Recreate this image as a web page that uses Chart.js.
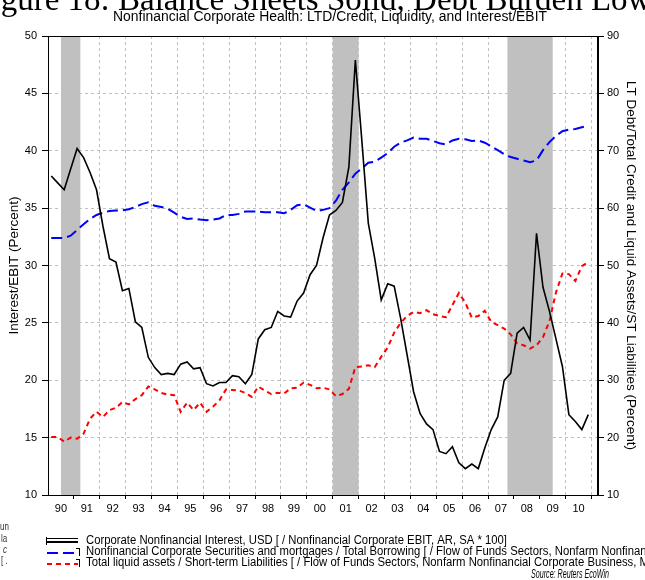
<!DOCTYPE html>
<html>
<head>
<meta charset="utf-8">
<script src="https://cdn.jsdelivr.net/npm/chart.js@4.4.0/dist/chart.umd.min.js"></script>
<style>
  html, body { margin: 0; padding: 0; background: #fff; }
  #wrap { width: 645px; height: 580px; }
</style>
</head>
<body>
<div id="wrap"><canvas id="chart" width="645" height="580"></canvas></div>
<script>
// quarterly values, 1990Q1 .. 2010Q4
const interestEbit = [
  37.8, 37.2, 36.6, 38.4, 40.2, 39.4, 38.1, 36.6, 33.4, 30.6,
  30.3, 27.8, 28.0, 25.1, 24.6, 22.0, 21.1, 20.5, 20.6, 20.5,
  21.4, 21.6, 21.0, 21.1, 19.7, 19.5, 19.8, 19.8, 20.4, 20.3,
  19.7, 20.5, 23.6, 24.4, 24.6, 26.0, 25.6, 25.5, 26.9, 27.6,
  29.2, 30.0, 32.4, 34.4, 34.8, 35.5, 38.6, 47.9, 40.9, 33.7,
  30.6, 27.0, 28.4, 28.2, 25.4, 22.2, 19.0, 17.1, 16.2, 15.7,
  13.8, 13.6, 14.2, 12.8, 12.3, 12.7, 12.3, 14.1, 15.7, 16.8,
  20.0, 20.6, 24.1, 24.6, 23.5, 32.8, 28.1, 26.0, 23.6, 21.2,
  17.0, 16.4, 15.7, 17.0
];
const ltdCredit = [
  54.8, 54.8, 54.8, 55.2, 56.2, 57.2, 58.1, 58.8, 59.2, 59.5,
  59.6, 59.6, 59.8, 60.2, 60.7, 61.0, 60.4, 60.2, 59.9, 59.2,
  58.5, 58.1, 58.2, 58.0, 57.9, 58.0, 58.2, 58.8, 58.8, 59.0,
  59.4, 59.4, 59.4, 59.3, 59.3, 59.3, 59.1, 59.7, 60.5, 60.7,
  60.1, 59.5, 59.7, 60.0, 61.3, 63.2, 64.5, 66.0, 66.9, 67.9,
  68.1, 68.8, 69.6, 70.7, 71.4, 71.8, 72.3, 72.1, 72.1, 71.7,
  71.3, 71.1, 71.8, 72.1, 72.0, 71.7, 71.8, 71.4, 70.8, 70.1,
  69.4, 68.9, 68.6, 68.3, 68.0, 68.3, 70.1, 71.5, 72.6, 73.4,
  73.7, 73.8, 74.1, 74.4
];
const liquidity = [
  20.1, 20.1, 19.3, 20.0, 19.8, 20.7, 23.3, 24.5, 23.6, 24.8,
  25.2, 26.2, 25.8, 26.7, 27.4, 28.9, 28.4, 27.8, 27.5, 27.4,
  24.5, 26.1, 24.8, 26.1, 24.5, 25.4, 26.5, 28.4, 28.3, 28.2,
  27.8, 27.1, 28.9, 28.2, 27.6, 27.8, 27.7, 28.6, 28.7, 29.6,
  29.2, 28.6, 28.7, 28.4, 27.2, 27.6, 28.5, 32.3, 32.4, 32.6,
  32.3, 34.1, 35.7, 38.3, 40.0, 41.2, 41.9, 41.7, 42.2, 41.5,
  41.2, 41.0, 43.1, 45.2, 43.5, 40.9, 41.2, 42.1, 40.2, 39.6,
  39.0, 38.0, 36.4, 36.1, 35.5, 36.1, 37.5, 40.3, 45.3, 48.6,
  48.5, 47.3, 49.9, 50.6
];

const yearLabels = ['90','91','92','93','94','95','96','97','98','99','00',
                    '01','02','03','04','05','06','07','08','09','10'];
const firstYear = 1990;

// shaded recessions (decimal years)
const recessionStart = [1990.5, 2001.0, 2007.75];
const recessionEnd = [1991.25, 2002.0, 2009.5];

const seriesNames = [
  'Corporate Nonfinancial Interest, USD [ / Nonfinancial Corporate EBIT, AR, SA * 100]',
  'Nonfinancial Corporate Securities and mortgages / Total Borrowing [ / Flow of Funds Sectors, Nonfarm Nonfinancial Corporate Business]',
  'Total liquid assets / Short-term Liabilities [ / Flow of Funds Sectors, Nonfarm Nonfinancial Corporate Business, Memo]'
];
const headTitle = 'Figure 18: Balance Sheets Solid, Debt Burden Low';
const subTitle = 'Nonfinancial Corporate Health: LTD/Credit, Liquidity, and Interest/EBIT';
const leftTitle = 'Interest/EBIT (Percent)';
const rightTitle = 'LT Debt/Total Credit and Liquid Assets/ST Liabilities (Percent)';
const sourceText = 'Source: Reuters EcoWin';

const SANS = "'Liberation Sans', Arial, sans-serif";

// quarter midpoints as decimal years
const quarterX = interestEbit.map((_, i) => firstYear + i / 4 + 0.125);
const toPoints = arr => arr.map((v, i) => ({ x: quarterX[i], y: v }));

// draw text squeezed horizontally (the original uses a narrow face)
function squeezed(ctx, text, x, y, sx, align) {
  ctx.save();
  ctx.translate(x, y);
  ctx.scale(sx, 1);
  ctx.textAlign = align;
  ctx.fillText(text, 0, 0);
  ctx.restore();
}

const extras = {
  id: 'extras',
  beforeDatasetsDraw(chart) {
    const { ctx, chartArea: a, scales: { x } } = chart;
    ctx.save();
    ctx.fillStyle = '#c0c0c0';
    recessionStart.forEach((s, k) => {
      const x1 = x.getPixelForValue(s);
      const x2 = x.getPixelForValue(recessionEnd[k]);
      ctx.fillRect(x1, a.top, x2 - x1, a.bottom - a.top);
    });
    ctx.restore();
  },
  afterDatasetsDraw(chart) {
    const { ctx, chartArea: a } = chart;
    ctx.save();
    ctx.strokeStyle = '#000';
    ctx.lineWidth = 1;
    ctx.strokeRect(a.left + 0.5, a.top + 0.5, a.right - a.left - 1, a.bottom - a.top);
    ctx.restore();
  },
  afterDraw(chart) {
    const { ctx } = chart;
    ctx.save();
    ctx.fillStyle = '#000';
    ctx.textBaseline = 'alphabetic';

    // cut-off report heading
    ctx.font = "33px 'Liberation Serif', 'Times New Roman', serif";
    ctx.textAlign = 'left';
    ctx.fillText(headTitle, 118 - ctx.measureText('Figure 18: ').width, 9.5);

    ctx.font = '14px ' + SANS;
    squeezed(ctx, subTitle, 330, 21, 434 / ctx.measureText(subTitle).width, 'center');

    // legend
    ctx.textBaseline = 'middle';
    const rowY = [541, 552, 563];
    ctx.font = '12.5px ' + SANS;
    const sx = 421 / ctx.measureText(seriesNames[0]).width;
    chart.data.datasets.forEach((ds, i) => {
      const y = rowY[i];
      ctx.strokeStyle = ds.borderColor;
      ctx.lineWidth = 2;
      ctx.setLineDash(ds.borderDash || []);
      ctx.beginPath();
      ctx.moveTo(47, y + 1);
      ctx.lineTo(78, y + 1);
      ctx.stroke();
      ctx.setLineDash([]);
      ctx.strokeStyle = '#000';
      ctx.lineWidth = 1;
      ctx.beginPath();
      if (i === 0) {
        ctx.moveTo(46.5, y - 4); ctx.lineTo(46.5, y + 4);
        ctx.moveTo(47, y - 2.5); ctx.lineTo(78, y - 2.5);
      } else {
        ctx.moveTo(79.5, y - 4); ctx.lineTo(79.5, y + 4);
        ctx.moveTo(76, y - 3.5); ctx.lineTo(79.5, y - 3.5);
      }
      ctx.stroke();
      ctx.fillStyle = '#000';
      squeezed(ctx, seriesNames[i], 86, y, sx, 'left');
    });
    ctx.font = 'italic 12px ' + SANS;
    squeezed(ctx, sourceText, 609, 575, 78 / ctx.measureText(sourceText).width, 'right');

    // clipped fragments at the left edge
    ctx.fillStyle = '#333';
    ctx.font = '10px ' + SANS;
    squeezed(ctx, 'un', 0, 527, 0.8, 'left');
    squeezed(ctx, 'la', 1, 539, 0.8, 'left');
    ctx.font = 'italic 10px ' + SANS;
    squeezed(ctx, 'c', 3, 550, 0.8, 'left');
    ctx.font = '10px ' + SANS;
    squeezed(ctx, '[ .', 1, 561, 0.8, 'left');
    ctx.restore();
  }
};

const tickFont = { family: SANS, size: 11 };
const titleFont = { family: SANS, size: 13.5 };

new Chart(document.getElementById('chart'), {
  type: 'line',
  data: {
    datasets: [
      { label: seriesNames[0], data: toPoints(interestEbit), yAxisID: 'y',
        borderColor: '#000000', borderWidth: 1.6 },
      { label: seriesNames[1], data: toPoints(ltdCredit), yAxisID: 'y2',
        borderColor: '#0000ff', borderWidth: 2, borderDash: [11, 5] },
      { label: seriesNames[2], data: toPoints(liquidity), yAxisID: 'y2',
        borderColor: '#ff0000', borderWidth: 2, borderDash: [5, 4] }
    ]
  },
  options: {
    responsive: false,
    animation: false,
    layout: { padding: { top: 36, left: 0, right: 0, bottom: 0 } },
    elements: { point: { radius: 0 }, line: { tension: 0, fill: false } },
    plugins: { legend: { display: false }, tooltip: { enabled: false }, title: { display: false } },
    scales: {
      x: {
        type: 'linear', position: 'bottom', min: 1990, max: 2011.25,
        afterBuildTicks: s => { s.ticks = yearLabels.map((_, k) => ({ value: firstYear + 1 + k })); },
        ticks: { display: false },
        grid: { color: '#c0c0c0', tickLength: 4, tickColor: '#000' },
        border: { color: '#000', dash: [3, 3] },
        afterFit: s => { s.height = 5; }
      },
      xl: {
        type: 'linear', position: 'bottom', min: 1990, max: 2011.25,
        afterBuildTicks: s => { s.ticks = yearLabels.map((_, k) => ({ value: firstYear + k + 0.5 })); },
        ticks: { callback: (v, i) => yearLabels[i], color: '#000', font: tickFont,
                 padding: 2, maxRotation: 0, autoSkip: false },
        grid: { display: false, drawTicks: false },
        border: { display: false },
        afterFit: s => { s.height = 80; }
      },
      y: {
        position: 'left', min: 10, max: 50,
        ticks: { stepSize: 5, color: '#000', font: tickFont, padding: 5 },
        grid: { color: '#c0c0c0', tickLength: 6, tickColor: '#000' },
        border: { color: '#000', dash: [3, 3] },
        title: { display: true, text: leftTitle, color: '#000', font: titleFont,
                 padding: { top: 6, bottom: 0 } },
        afterFit: s => { s.width = 48; }
      },
      y2: {
        position: 'right', min: 10, max: 90,
        ticks: { stepSize: 10, color: '#000', font: tickFont, padding: 3 },
        grid: { drawOnChartArea: false, tickLength: 6, tickColor: '#000' },
        border: { color: '#000' },
        title: { display: true, text: rightTitle, color: '#000', font: titleFont,
                 padding: { top: 6, bottom: 0 } },
        afterFit: s => { s.width = 47; }
      }
    }
  },
  plugins: [extras]
});
</script>
</body>
</html>
